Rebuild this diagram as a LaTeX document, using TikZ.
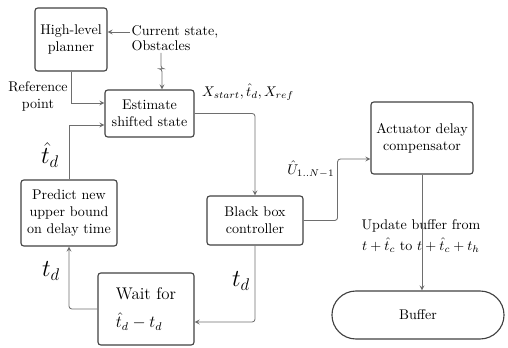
\documentclass[tikz,border=0pt]{standalone}
\usepackage{amsmath}
\usepackage{amssymb}
\usepackage{xcolor}
\usepackage{tikz}
\usetikzlibrary{calc}
\definecolor{boxgray}{HTML}{404040}
\definecolor{linegray}{HTML}{6E6E6E}

\begin{document}
\begin{tikzpicture}
[
x=0.025cm, y=-0.025cm,
block/.style 2 args={draw=boxgray,line width=0.8pt,rounded corners=2pt,align=center,
                     minimum width=#1,minimum height=#2,inner sep=2pt},
conn/.style={draw=linegray,line width=0.6pt,-stealth},
lbl/.style={inner sep=1pt},
]
\useasboundingbox (0,0) rectangle (508,348);

%Place the nodes
\node[block={1.8cm}{1.575cm}] (plan) at (71,39.5) {High-level\\planner};
\node[block={2.225cm}{1.175cm}] (est) at (149.5,113.5) {Estimate\\shifted state};
\node[block={2.4cm}{1.65cm}] (pred) at (69,213) {Predict new\\upper bound\\on delay time};
\node[block={2.4cm}{1.8cm},align=left,font=\large] (wait) at (146,309) {Wait for\\[6pt]$\hat{t}_d-t_d$};
\node[block={2.4cm}{1.225cm}] (bbc) at (255,220.5) {Black box\\controller};
\node[block={2.55cm}{1.8cm}] (act) at (422,138) {Actuator delay\\compensator};
\node[draw=boxgray,line width=0.8pt,rounded corners=0.6cm,minimum width=4.3cm,
      minimum height=1.2cm] (buf) at (418,315) {Buffer};

%texts
\node[lbl,anchor=west] (cur) at (130,32) {Current state,};
\node[lbl,anchor=west] (obst) at (130,46) {Obstacles};
\node[lbl,align=center] (refpt) at (38,96) {Reference\\point};
\node[lbl] (xs) at (248,92) {$X_{start},\hat{t}_d,X_{ref}$};
\node[lbl,anchor=east] (ulab) at (336,169) {$\hat{U}_{1..N-1}$};
\node[lbl,align=center] (upd) at (421,236) {Update buffer from\\[3pt]$t+\hat{t}_c$ to $t+\hat{t}_c+t_h$};
\node[lbl,font=\LARGE] (tdh) at (50,155) {$\hat{t}_d$};
\node[lbl,font=\LARGE] (tdl) at (51,271) {$t_d$};
\node[lbl,font=\LARGE] (tdr) at (241,281) {$t_d$};

%connections
%into planner and estimator
\draw[conn] (cur.west) -- (cur.west -| plan.east);
\draw[conn,rounded corners=2pt] (obst.south) -- ++(0,16) -| ($(est.north)+(12.5,0)$);
\draw[conn] (plan.south) |- ($(est.west)+(0,-10.5)$);
\draw[conn] (pred.north) |- ($(est.west)+(0,11.5)$);
%controller and compensator
\draw[conn,rounded corners=2pt] (est.east) -| (bbc.north);
\draw[conn,rounded corners=2pt] (bbc.east) -- ++(34,0) |- ($(act.west)+(0,21)$);
\draw[conn] (act.south) -- (act.south |- buf.north);
%delay loop
\draw[conn,rounded corners=2pt] (bbc.south) |- ($(wait.east)+(0,13)$);
\draw[conn,rounded corners=2pt] (wait.west) -| (pred.south);
\end{tikzpicture}
\end{document}
